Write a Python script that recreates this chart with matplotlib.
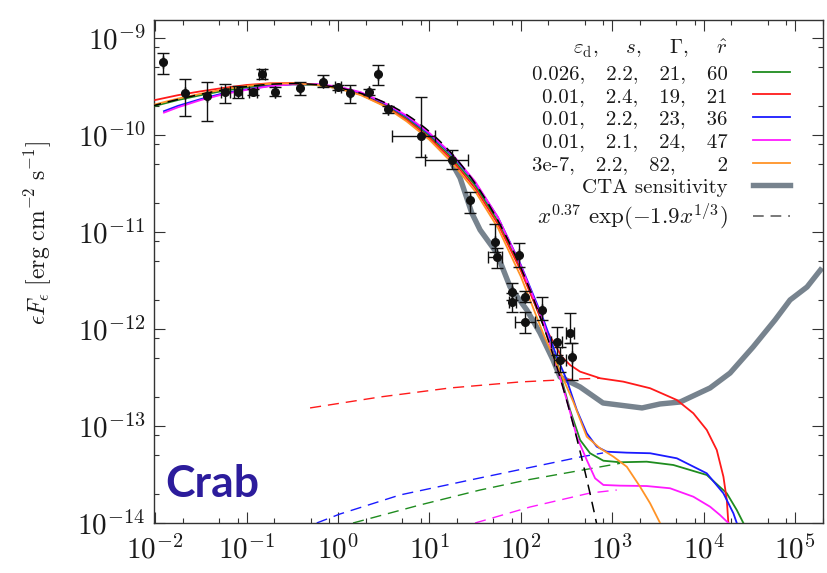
import numpy as np
import matplotlib
matplotlib.use("Agg")
import matplotlib.pyplot as plt
from matplotlib.lines import Line2D
from matplotlib.ticker import FixedLocator, NullFormatter, LogFormatterSciNotation

plt.rcParams.update({
    "font.family": "serif",
    "font.serif": ["cmr10"],
    "mathtext.fontset": "cm",
    "axes.formatter.use_mathtext": True,
    "axes.unicode_minus": False,
})

# ---------------- Crab nebula observations ----------------
obs_E = [0.0121, 0.0212, 0.0372, 0.058, 0.0805, 0.1167, 0.146, 0.205, 0.384, 0.69,
         1.0, 1.35, 2.2, 2.76, 3.55, 8.0, 17.5, 27.8, 52.2, 54.5,
         95.5, 79.4, 81.0, 111.0, 169.0, 111.0, 247.0, 345.0, 268.0, 361.0]
obs_F = [5.6e-10, 2.69e-10, 2.52e-10, 2.80e-10, 2.77e-10, 2.80e-10, 4.23e-10, 2.75e-10, 3.03e-10, 3.55e-10,
         3.10e-10, 2.69e-10, 2.80e-10, 4.23e-10, 1.85e-10, 9.77e-11, 5.52e-11, 2.14e-11, 7.94e-12, 5.56e-12,
         5.79e-12, 2.43e-12, 1.91e-12, 2.15e-12, 1.57e-12, 1.19e-12, 7.39e-13, 9.03e-13, 4.79e-13, 5.18e-13]
obs_F_lo = [4.26e-10, 1.57e-10, 1.39e-10, 2.14e-10, 2.40e-10, 2.60e-10, 3.78e-10, 2.52e-10, 2.58e-10, 3.15e-10,
            2.90e-10, 2.14e-10, 2.60e-10, 3.27e-10, 1.70e-10, 5.93e-11, 4.46e-11, 1.57e-11, 6.27e-12, 4.26e-12,
            4.39e-12, 1.99e-12, 1.51e-12, 1.90e-12, 1.24e-12, 9.0e-13, 5.40e-13, 7.18e-13, 3.63e-13, 2.98e-13]
obs_F_hi = [6.95e-10, 3.78e-10, 3.55e-10, 3.36e-10, 3.20e-10, 3.00e-10, 4.79e-10, 3.15e-10, 3.55e-10, 4.16e-10,
            3.30e-10, 3.27e-10, 3.00e-10, 5.27e-10, 2.00e-10, 2.48e-10, 7.00e-11, 2.61e-11, 1.21e-11, 6.84e-12,
            7.71e-12, 2.96e-12, 2.35e-12, 2.45e-12, 2.15e-12, 1.51e-12, 1.06e-12, 1.46e-12, 6.58e-13, 7.18e-13]
obs_E_lo = [0.0121, 0.0212, 0.0372, 0.052, 0.072, 0.105, 0.135, 0.205, 0.384, 0.69,
            0.92, 1.35, 2.2, 2.76, 3.55, 3.9, 8.95, 27.8, 52.2, 44.0,
            95.5, 79.4, 74.0, 111.0, 169.0, 86.4, 215.0, 310.0, 230.0, 361.0]
obs_E_hi = [0.0121, 0.0212, 0.0372, 0.065, 0.090, 0.130, 0.158, 0.205, 0.384, 0.69,
            1.09, 1.35, 2.2, 2.76, 3.55, 11.5, 26.4, 27.8, 52.2, 61.8,
            95.5, 79.4, 89.0, 111.0, 169.0, 143.0, 283.0, 385.0, 310.0, 361.0]

# ---------------- model spectra (log10 E, log10 eF_e) ----------------
green_logE = [-2.0, -1.75, -1.5, -1.25, -1.0, -0.75, -0.5, -0.25, 0.0, 0.25, 0.5, 0.75, 1.0, 1.25, 1.5,
              1.75, 2.0, 2.25, 2.4, 2.538, 2.648, 2.757, 2.903, 3.085, 3.377, 3.668, 4.034, 4.253, 4.362, 4.434]
green_logF = [-9.70, -9.64, -9.59, -9.545, -9.51, -9.488, -9.478, -9.485, -9.518, -9.58, -9.685, -9.83, -10.01, -10.24, -10.52,
              -10.89, -11.38, -11.97, -12.36, -12.835, -13.144, -13.281, -13.358, -13.374, -13.368, -13.402, -13.505, -13.694, -13.866, -14.0]

red_logE = [-2.0, -1.75, -1.5, -1.25, -1.0, -0.75, -0.5, -0.25, 0.0, 0.25, 0.5, 0.75, 1.0, 1.25, 1.5,
            1.75, 2.0, 2.25, 2.301, 2.447, 2.538, 2.648, 2.867, 3.121, 3.414, 3.706, 3.887, 4.034, 4.143, 4.216, 4.253, 4.270]
red_logF = [-9.64, -9.59, -9.55, -9.515, -9.485, -9.468, -9.465, -9.478, -9.515, -9.585, -9.695, -9.845, -10.03, -10.26, -10.55,
            -10.92, -11.40, -11.96, -12.044, -12.286, -12.371, -12.44, -12.508, -12.543, -12.611, -12.732, -12.869, -13.041, -13.247, -13.523, -13.763, -14.0]

blue_logE = [-1.904, -1.75, -1.5, -1.25, -1.0, -0.75, -0.5, -0.25, 0.0, 0.25, 0.5, 0.75, 1.0, 1.25, 1.5,
             1.75, 2.0, 2.25, 2.393, 2.502, 2.612, 2.721, 2.830, 2.940, 3.159, 3.414, 3.706, 4.034, 4.216, 4.325, 4.362]
blue_logF = [-9.755, -9.70, -9.63, -9.57, -9.53, -9.495, -9.478, -9.478, -9.505, -9.565, -9.67, -9.81, -9.99, -10.21, -10.49,
             -10.85, -11.34, -11.91, -12.286, -12.526, -12.835, -13.075, -13.213, -13.265, -13.275, -13.281, -13.333, -13.488, -13.694, -13.90, -14.0]

magenta_logE = [-1.904, -1.75, -1.5, -1.25, -1.0, -0.75, -0.5, -0.25, 0.0, 0.25, 0.5, 0.75, 1.0, 1.25, 1.5,
                1.75, 2.0, 2.25, 2.393, 2.502, 2.612, 2.721, 2.812, 2.903, 3.085, 3.377, 3.632, 3.887, 4.070, 4.179, 4.270]
magenta_logF = [-9.77, -9.715, -9.64, -9.58, -9.535, -9.498, -9.478, -9.475, -9.50, -9.56, -9.665, -9.80, -9.98, -10.20, -10.48,
                -10.85, -11.35, -11.94, -12.389, -12.732, -13.110, -13.351, -13.539, -13.608, -13.615, -13.619, -13.642, -13.729, -13.832, -13.918, -14.0]

orange_logE = [-2.0, -1.75, -1.5, -1.25, -1.0, -0.75, -0.5, -0.25, 0.0, 0.25, 0.5, 0.75, 1.0, 1.25, 1.5,
               1.75, 2.0, 2.25, 2.429, 2.574, 2.721, 2.866, 3.012, 3.159, 3.304, 3.414, 3.523]
orange_logF = [-9.685, -9.625, -9.575, -9.53, -9.495, -9.472, -9.468, -9.482, -9.52, -9.59, -9.70, -9.86, -10.05, -10.29, -10.58,
               -10.96, -11.46, -12.06, -12.44, -12.751, -13.110, -13.230, -13.316, -13.420, -13.626, -13.797, -14.0]

# secondary (inverse-Compton) components
red_ic_logE = [-0.306, 0.460, 1.225, 1.991, 2.648, 2.867]
red_ic_logF = [-12.814, -12.701, -12.608, -12.546, -12.515, -12.508]
blue_ic_logE = [-0.233, 0.022, 0.678, 1.444, 2.648, 2.899]
blue_ic_logF = [-14.0, -13.907, -13.711, -13.557, -13.320, -13.278]
green_ic_logE = [0.164, 0.897, 1.554, 2.065, 3.085]
green_ic_logF = [-14.0, -13.814, -13.660, -13.557, -13.385]
magenta_ic_logE = [1.499, 2.101, 2.757, 3.049]
magenta_ic_logF = [-14.0, -13.835, -13.691, -13.660]

# CTA differential sensitivity
cta_logE = [1.244, 1.335, 1.463, 1.554, 1.736, 1.882, 2.065, 2.210, 2.352, 2.429, 2.648, 2.899,
            3.326, 3.523, 3.742, 4.070, 4.289, 4.540, 4.781, 4.945, 5.131, 5.295]
cta_logF = [-10.289, -10.443, -10.804, -10.979, -11.216, -11.567, -11.804, -12.041, -12.320, -12.495, -12.598, -12.763,
            -12.814, -12.773, -12.753, -12.608, -12.454, -12.186, -11.907, -11.701, -11.567, -11.371]

# analytic fit  A x^0.37 exp(-1.9 x^(1/3)),  x = E / E0
fit_A = 1.865e-9
fit_E0 = 1.55
fit_index = 0.37
fit_coeff = 1.9

# axis decades
x_decades = [-2, -1, 0, 1, 2, 3, 4, 5]
y_decades = [-14, -13, -12, -11, -10, -9]

legend_labels = [
    r"$\varepsilon_{\rm d},\ \ \ \ s,\ \ \ \ \Gamma,\ \ \ \ \hat{r}$",
    "0.026,   2.2,   21,   60",
    "0.01,   2.4,   19,   21",
    "0.01,   2.2,   23,   36",
    "0.01,   2.1,   24,   47",
    "3e-7,   2.2,   82,      2",
    "CTA sensitivity",
    r"$x^{0.37}\ \exp(-1.9x^{1/3})$",
]

C_GREEN = "#1f8c1f"
C_RED = "#ff1a1a"
C_BLUE = "#1a1aff"
C_MAG = "#ff1aff"
C_ORANGE = "#ff9326"
C_CTA = "#77838e"

fig = plt.figure(figsize=(8.28, 5.73), dpi=100)
ax = fig.add_axes([154 / 828, 50 / 573, 669 / 828, 503 / 573])


def lg(a):
    return 10.0 ** np.asarray(a, dtype=float)


ax.plot(lg(cta_logE), lg(cta_logF), color=C_CTA, lw=3.9, solid_capstyle="butt", zorder=1)

dash = (0, (8, 5))
ax.plot(lg(red_ic_logE), lg(red_ic_logF), color=C_RED, lw=1.0, ls=dash, zorder=2)
ax.plot(lg(blue_ic_logE), lg(blue_ic_logF), color=C_BLUE, lw=1.0, ls=dash, zorder=2)
ax.plot(lg(green_ic_logE), lg(green_ic_logF), color=C_GREEN, lw=1.0, ls=dash, zorder=2)
ax.plot(lg(magenta_ic_logE), lg(magenta_ic_logF), color=C_MAG, lw=1.0, ls=dash, zorder=2)

l_green, = ax.plot(lg(green_logE), lg(green_logF), color=C_GREEN, lw=1.3, zorder=3)
l_red, = ax.plot(lg(red_logE), lg(red_logF), color=C_RED, lw=1.3, zorder=3)
l_blue, = ax.plot(lg(blue_logE), lg(blue_logF), color=C_BLUE, lw=1.3, zorder=3)
l_mag, = ax.plot(lg(magenta_logE), lg(magenta_logF), color=C_MAG, lw=1.3, zorder=3)
l_orange, = ax.plot(lg(orange_logE), lg(orange_logF), color=C_ORANGE, lw=1.3, zorder=3)

E_fit = np.logspace(-2.05, 2.9, 300)
x_fit = E_fit / fit_E0
F_fit = fit_A * x_fit ** fit_index * np.exp(-fit_coeff * x_fit ** (1.0 / 3.0))
l_fit, = ax.plot(E_fit, F_fit, color="black", lw=1.1, ls=(0, (7, 4.5)), zorder=4)

E = np.asarray(obs_E)
F = np.asarray(obs_F)
yerr = [F - np.asarray(obs_F_lo), np.asarray(obs_F_hi) - F]
xerr = [E - np.asarray(obs_E_lo), np.asarray(obs_E_hi) - E]
ax.errorbar(E, F, yerr=yerr, xerr=xerr, fmt="o", color="#111111", ms=5.5,
            elinewidth=1.0, capsize=4, capthick=1.0, zorder=5)

ax.set_xscale("log")
ax.set_yscale("log")
ax.set_xlim(0.0097, 2.02e5)
ax.set_ylim(1e-14, 1.53e-9)


def minor_positions(decades, lo, hi):
    vals = [m * 10.0 ** d for d in range(min(decades) - 1, max(decades) + 1) for m in (2, 5, 8)]
    return [v for v in vals if lo <= v <= hi]


ax.xaxis.set_major_locator(FixedLocator([10.0 ** d for d in x_decades]))
ax.yaxis.set_major_locator(FixedLocator([10.0 ** d for d in y_decades]))
ax.xaxis.set_minor_locator(FixedLocator(minor_positions(x_decades, 0.0097, 2.02e5)))
ax.yaxis.set_minor_locator(FixedLocator(minor_positions(y_decades, 1e-14, 1.53e-9)))
for axis in (ax.xaxis, ax.yaxis):
    axis.set_major_formatter(LogFormatterSciNotation())
    axis.set_minor_formatter(NullFormatter())

ax.tick_params(which="both", direction="in", top=True, right=True, colors="#333333",
               labelcolor="#1a1a1a", width=0.8)
ax.tick_params(which="major", length=8, labelsize=21)
ax.tick_params(which="minor", length=3.8)
ax.tick_params(axis="x", which="major", pad=9)
ax.tick_params(axis="y", which="major", pad=6)
for sp in ax.spines.values():
    sp.set_color("#333333")
    sp.set_linewidth(1.0)

ax.set_ylabel(r"$\epsilon F_\epsilon\ [\mathrm{erg\ cm^{-2}\ s^{-1}}]$", fontsize=17,
              color="#1a1a1a", va="center")
ax.yaxis.set_label_coords(-0.173, 0.577)

ax.text(0.0164, 0.0517, "Crab", transform=ax.transAxes, family="Lato", weight="bold",
        fontsize=32, color="#2c1c9c", ha="left", va="baseline")

blank = Line2D([], [], color="none")
handles = [blank, l_green, l_red, l_blue, l_mag, l_orange,
           Line2D([], [], color=C_CTA, lw=3.9),
           Line2D([], [], color="#555555", lw=1.1, ls=(0, (7, 4.5)))]
leg = ax.legend(handles, legend_labels, loc="upper right", bbox_to_anchor=(0.951, 0.965),
                frameon=False, markerfirst=False, fontsize=15, handlelength=1.8,
                handletextpad=1.2, labelspacing=0.2, borderpad=0, borderaxespad=0)
for t in leg.get_texts():
    t.set_color("#1a1a1a")
leg.get_texts()[-1].set_fontsize(16.5)

fig.savefig("out.png", dpi=100)
